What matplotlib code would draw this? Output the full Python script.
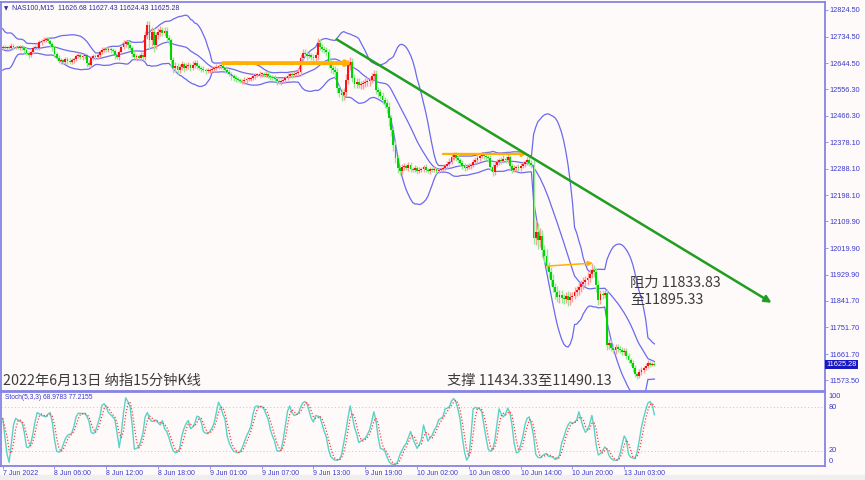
import numpy as np
import pandas as pd
import matplotlib.pyplot as plt
import matplotlib.transforms as mtransforms
from matplotlib.patches import Rectangle

# 15 分钟收盘价 (NAS100, M15)
pre_closes = [12740, 12760, 12730, 12690, 12640, 12620, 12625, 12650, 12680, 12705,
              12725, 12735, 12715, 12690, 12675, 12690, 12705, 12700, 12690, 12700]
first_open = 12696
closes = [
    12699, 12696, 12699, 12696, 12703, 12699, 12699, 12696, 12699, 12696, 12689, 12679,
    12672, 12682, 12696, 12699, 12696, 12716, 12720, 12723, 12726, 12720, 12710, 12699,
    12676, 12662, 12652, 12655, 12649, 12659, 12652, 12649, 12655, 12659, 12669, 12672,
    12666, 12669, 12672, 12645, 12639, 12662, 12669, 12666, 12672, 12682, 12689, 12693,
    12689, 12693, 12689, 12686, 12672, 12666, 12682, 12699, 12710, 12716, 12706, 12696,
    12676, 12666, 12669, 12662, 12672, 12666, 12740, 12774, 12723, 12750, 12706, 12740,
    12750, 12757, 12747, 12754, 12730, 12723, 12655, 12628, 12635, 12622, 12632, 12642,
    12628, 12635, 12639, 12628, 12639, 12645, 12635, 12628, 12625, 12622, 12618, 12618,
    12622, 12625, 12628, 12632, 12635, 12635, 12628, 12622, 12615, 12608, 12601, 12595,
    12591, 12588, 12584, 12584, 12588, 12591, 12591, 12595, 12601, 12605, 12605, 12608,
    12608, 12605, 12608, 12601, 12598, 12595, 12591, 12584, 12581, 12584, 12588, 12595,
    12601, 12608, 12605, 12608, 12612, 12615, 12662, 12679, 12676, 12669, 12672, 12666,
    12662, 12672, 12713, 12699, 12693, 12689, 12682, 12645, 12628, 12622, 12615, 12561,
    12544, 12537, 12547, 12588, 12639, 12649, 12595, 12574, 12581, 12571, 12574, 12577,
    12581, 12584, 12588, 12601, 12608, 12554, 12547, 12534, 12520, 12510, 12497, 12459,
    12419, 12368, 12324, 12290, 12280, 12294, 12297, 12290, 12301, 12287, 12284, 12290,
    12280, 12284, 12287, 12294, 12284, 12280, 12287, 12284, 12287, 12280, 12284, 12287,
    12290, 12297, 12304, 12311, 12328, 12334, 12324, 12317, 12307, 12297, 12290, 12294,
    12297, 12301, 12311, 12317, 12324, 12331, 12334, 12331, 12328, 12324, 12294, 12277,
    12301, 12311, 12317, 12314, 12321, 12317, 12328, 12297, 12284, 12290, 12294, 12290,
    12297, 12304, 12311, 12317, 12307, 12301, 12054, 12074, 12047, 12061, 12013, 11993,
    11959, 11939, 11912, 11888, 11871, 11854, 11861, 11851, 11848, 11858, 11844, 11854,
    11858, 11871, 11878, 11888, 11898, 11905, 11912, 11919, 11932, 11946, 11939, 11895,
    11844, 11865, 11861, 11868, 11692, 11699, 11682, 11675, 11685, 11679, 11675, 11668,
    11672, 11655, 11641, 11631, 11614, 11594, 11587, 11601, 11608, 11614, 11621, 11631,
    11625, 11628, 11625.28,
]
# 上下影线长度 (点)
wick_up = [
    6, 8, 5, 7, 9, 6, 5, 8, 6, 7, 5, 9, 6, 8, 7, 6, 10, 8, 7, 9, 6, 8, 7, 5,
    8, 6, 9, 7, 5, 8, 6, 10, 7, 5, 8, 9, 6, 7, 8, 5, 9, 7, 6, 8, 10, 7, 9, 8,
    7, 9, 6, 8, 7, 10, 8, 9, 12, 8, 7, 10, 6, 9, 8, 7, 10, 12, 15, 12, 12, 18, 14, 10,
    12, 15, 10, 14, 12, 10, 8, 12, 14, 10, 9, 11, 8, 10, 9, 8, 12, 10, 9, 7, 8, 10, 7, 9,
    7, 8, 6, 9, 8, 7, 10, 6, 8, 9, 7, 8, 10, 6, 8, 7, 9, 6, 8, 7, 10, 8, 7, 9,
    8, 7, 9, 10, 6, 8, 9, 7, 8, 6, 9, 8, 10, 7, 8, 9, 7, 12, 15, 14, 12, 10, 9, 8,
    10, 12, 18, 14, 12, 10, 9, 12, 15, 10, 12, 14, 10, 12, 15, 20, 18, 15, 14, 12, 15, 12, 10, 12,
    12, 14, 10, 12, 15, 12, 10, 12, 14, 10, 12, 15, 10, 14, 12, 10, 12, 9, 10, 8, 9, 10, 8, 9,
    8, 9, 7, 8, 9, 6, 8, 7, 9, 6, 8, 7, 9, 8, 10, 12, 14, 12, 10, 9, 8, 10, 9, 8,
    9, 8, 10, 12, 9, 10, 12, 10, 9, 8, 10, 12, 9, 10, 8, 11, 12, 9, 14, 8, 9, 10, 8, 9,
    9, 10, 8, 12, 10, 9, 15, 40, 30, 25, 20, 18, 22, 15, 18, 20, 15, 22, 18, 16, 14, 15, 18, 16,
    14, 16, 15, 18, 14, 16, 15, 20, 18, 25, 15, 12, 18, 14, 12, 10, 15, 12, 10, 12, 10, 11, 9, 10,
    10, 9, 11, 8, 10, 9, 8, 10, 9, 8, 10, 9, 8, 7, 6,
]
wick_dn = [
    7, 5, 8, 6, 5, 9, 7, 5, 8, 6, 10, 7, 9, 6, 5, 8, 6, 7, 9, 5, 8, 6, 9, 12,
    10, 7, 6, 9, 8, 6, 10, 7, 8, 9, 6, 7, 8, 9, 10, 12, 7, 6, 8, 9, 7, 8, 6, 7,
    8, 6, 9, 7, 12, 8, 9, 7, 6, 10, 12, 8, 9, 7, 10, 8, 9, 12, 10, 12, 30, 20, 25, 15,
    14, 12, 10, 12, 15, 18, 20, 15, 12, 14, 10, 9, 12, 8, 10, 9, 8, 11, 9, 8, 10, 7, 9, 8,
    8, 6, 9, 7, 8, 10, 6, 9, 7, 8, 12, 9, 10, 8, 7, 9, 8, 10, 7, 8, 6, 9, 8, 7,
    9, 8, 7, 6, 10, 8, 9, 12, 8, 10, 7, 9, 8, 7, 9, 6, 8, 10, 12, 9, 10, 12, 8, 10,
    12, 14, 15, 10, 12, 9, 14, 18, 15, 14, 20, 18, 15, 20, 18, 14, 12, 16, 15, 12, 14, 10, 12, 15,
    14, 12, 15, 10, 12, 14, 15, 12, 14, 18, 20, 25, 22, 20, 18, 15, 12, 10, 9, 8, 10, 9, 7, 8,
    9, 7, 8, 9, 6, 8, 9, 7, 8, 9, 7, 8, 6, 8, 9, 7, 8, 10, 9, 8, 10, 9, 11, 8,
    8, 9, 7, 8, 10, 9, 8, 10, 9, 12, 10, 14, 9, 8, 10, 9, 8, 10, 9, 12, 10, 8, 9, 10,
    10, 8, 9, 10, 9, 12, 20, 25, 30, 22, 25, 20, 18, 22, 20, 18, 22, 15, 20, 16, 18, 15, 20, 18,
    15, 12, 14, 16, 15, 18, 14, 16, 15, 12, 18, 22, 15, 14, 12, 10, 18, 12, 10, 9, 12, 10, 11, 9,
    9, 10, 8, 11, 12, 10, 9, 8, 10, 9, 8, 7, 6, 5, 3,
]
# Stoch(5,3,3) 主线
stoch_k = [
    64, 40, 15, 4, 30, 55, 64, 62, 60, 58, 45, 25, 24, 30, 43, 60, 72, 70, 68, 67, 66, 70, 72, 58,
    35, 19, 18, 19, 28, 36, 41, 42, 44, 53, 66, 71, 71, 70, 71, 67, 60, 45, 43, 47, 56, 66, 82, 84,
    79, 72, 69, 66, 62, 44, 24, 45, 72, 92, 87, 80, 55, 22, 23, 25, 33, 44, 66, 72, 64, 60, 60, 62,
    58, 55, 61, 50, 46, 38, 28, 20, 17, 18, 23, 40, 50, 57, 61, 50, 52, 57, 67, 66, 59, 46, 44, 43,
    46, 51, 58, 72, 86, 80, 70, 63, 40, 30, 24, 19, 18, 17, 18, 24, 32, 40, 46, 53, 70, 80, 81, 80,
    80, 77, 70, 63, 49, 40, 33, 20, 19, 21, 35, 55, 74, 81, 72, 68, 69, 71, 79, 85, 87, 84, 74, 64,
    59, 68, 67, 66, 56, 46, 38, 22, 12, 9, 7, 7, 8, 14, 30, 46, 65, 81, 67, 52, 43, 31, 33, 35,
    37, 42, 48, 60, 73, 60, 38, 23, 22, 20, 12, 5, 2, 1, 1, 5, 14, 20, 26, 30, 38, 46, 37, 30,
    23, 28, 35, 55, 44, 33, 37, 41, 48, 53, 62, 64, 66, 77, 78, 80, 88, 91, 87, 76, 62, 38, 18, 7,
    12, 40, 77, 79, 78, 77, 73, 55, 37, 22, 19, 21, 33, 55, 77, 70, 66, 70, 78, 72, 55, 30, 17, 18,
    28, 39, 55, 64, 66, 55, 40, 15, 11, 10, 13, 15, 16, 12, 12, 11, 8, 9, 14, 30, 38, 48, 55, 59,
    57, 59, 62, 73, 62, 52, 45, 48, 56, 68, 52, 28, 14, 16, 20, 25, 22, 13, 9, 7, 7, 7, 15, 28,
    40, 35, 15, 11, 10, 9, 18, 34, 52, 65, 76, 85, 87, 82, 69,
]

price_ticks = [12824.50, 12734.50, 12644.50, 12556.30, 12466.30, 12378.10, 12288.10,
               12198.10, 12109.90, 12019.90, 11929.90, 11841.70, 11751.70, 11661.70, 11573.50]
time_tick_bars = [0, 24, 48, 72, 96, 120, 144, 168, 192, 216, 240, 264, 288]
time_tick_labels = ['7 Jun 2022', '8 Jun 06:00', '8 Jun 12:00', '8 Jun 18:00', '9 Jun 01:00',
                    '9 Jun 07:00', '9 Jun 13:00', '9 Jun 19:00', '10 Jun 02:00', '10 Jun 08:00',
                    '10 Jun 14:00', '10 Jun 20:00', '13 Jun 03:00']

# 画线: 橙色水平箭头和绿色趋势箭头
level_start_bar = [102, 204, 252.2]
level_end_bar = [162, 243, 273.5]
level_start_price = [12645, 12338, 11959]
level_end_price = [12645, 12338, 11969]
trend_bars = [154.8, 356.3]
trend_prices = [12725, 11835]

last_price = 11625.28

assert len(closes) == len(wick_up) == len(wick_dn) == len(stoch_k)

# ---------------------------------------------------------------
bg = '#fffafa'
frame = '#8484e4'
axis_txt = '#3a3acc'

fig = plt.figure(figsize=(8.65, 4.8), dpi=100, facecolor=bg)
ax = fig.add_axes([1 / 865, 1 - 391 / 480, 824 / 865, 389 / 480], facecolor=bg)
ax2 = fig.add_axes([1 / 865, 1 - 466 / 480, 824 / 865, 74 / 480], facecolor=bg)
fig.add_artist(Rectangle((0, 0), 1, 5 / 480, transform=fig.transFigure,
                         color='#efefef', zorder=-1))

idx = np.arange(len(closes))
c = np.array(closes, dtype=float)
o = np.concatenate([[first_open], c[:-1]])
hi = np.maximum(o, c) + np.array(wick_up)
lo = np.minimum(o, c) - np.array(wick_dn)
up = c >= o

# 布林带 (20, 2)
allc = pd.Series(pre_closes + list(closes), dtype=float)
mid = allc.rolling(20).mean().values[len(pre_closes):]
sd = allc.rolling(20).std(ddof=0).values[len(pre_closes):]
for band in (mid, mid + 2 * sd, mid - 2 * sd):
    ax.plot(idx, band, color='#6a6aee', lw=0.9, zorder=2)

# K线: 红涨绿跌
ax.vlines(idx[up], lo[up], hi[up], color='#ff9c9c', lw=1.0, zorder=3)
ax.vlines(idx[~up], lo[~up], hi[~up], color='#94ea94', lw=1.0, zorder=3)
body = np.maximum(np.abs(c - o), 2.0)
ax.bar(idx[up], body[up], bottom=np.minimum(o, c)[up], width=0.85,
       color='#ff1010', linewidth=0, zorder=4)
ax.bar(idx[~up], body[~up], bottom=np.minimum(o, c)[~up], width=0.85,
       color='#00d400', linewidth=0, zorder=4)

# 橙色阻力/支撑箭头
level_widths = [2.8, 1.6, 1.1]
for x0, x1, y0, y1, w in zip(level_start_bar, level_end_bar, level_start_price,
                             level_end_price, level_widths):
    ax.annotate('', xy=(x1, y1), xytext=(x0, y0),
                arrowprops=dict(arrowstyle='-|>', color='#ffb000', lw=w,
                                mutation_scale=7, shrinkA=0, shrinkB=0), zorder=5)

# 绿色下降趋势箭头
ax.annotate('', xy=(trend_bars[1], trend_prices[1]), xytext=(trend_bars[0], trend_prices[0]),
            arrowprops=dict(arrowstyle='-|>', color='#1f9e1f', lw=1.8,
                            mutation_scale=10, shrinkA=0, shrinkB=0), zorder=5)

ax.set_xlim(-0.79, 381.05)
ax.set_ylim(11536.7, 12851.5)
ax.set_xticks([])
ax.yaxis.tick_right()
ax.set_yticks(price_ticks)
ax.set_yticklabels([f'{p:.2f}' for p in price_ticks], family='Liberation Sans')
ax.tick_params(axis='y', length=2, width=0.6, pad=1.5, labelsize=5.3,
               labelcolor=axis_txt, color=frame)

# 当前价格标签
trans = mtransforms.blended_transform_factory(ax.transAxes, ax.transData)
ax.text(1.0015, last_price, f'{last_price:.2f}', transform=trans, ha='left', va='center',
        fontsize=5.3, family='Liberation Sans', color='white',
        bbox=dict(facecolor='#1818c0', edgecolor='none', pad=0.8))

# 随机指标
k = pd.Series(stoch_k, dtype=float)
d = k.rolling(3, min_periods=1).mean()
ax2.axhline(80, color='#c4c4c4', lw=0.7, ls=(0, (1, 2.5)))
ax2.axhline(20, color='#c4c4c4', lw=0.7, ls=(0, (1, 2.5)))
ax2.plot(idx, k, color='#5ad2c6', lw=1.0)
ax2.plot(idx, d, color='#ff3b3b', lw=0.9, ls=(0, (1, 1.5)))
ax2.set_xlim(-0.79, 381.05)
ax2.set_ylim(-1, 100)
ax2.set_yticks([])
trans2 = mtransforms.blended_transform_factory(ax2.transAxes, ax2.transData)
for val, lab in [(93.6, '100'), (79, '80'), (20, '20'), (4.9, '0')]:
    ax2.text(1.004, val, lab, transform=trans2, ha='left', va='center', fontsize=5.3,
             family='Liberation Sans', color=axis_txt)
ax2.text(0.005, 0.92, 'Stoch(5,3,3) 68.9783 77.2155', transform=ax2.transAxes,
         ha='left', va='center', fontsize=4.8, family='Liberation Sans', color=axis_txt)

ax2.set_xticks(time_tick_bars)
ax2.set_xticklabels(time_tick_labels, family='Liberation Sans', ha='left')
ax2.tick_params(axis='x', length=2.5, width=0.6, pad=0.5, labelsize=5,
                labelcolor=axis_txt, color=frame)

for a in (ax, ax2):
    for s in a.spines.values():
        s.set_color(frame)
        s.set_linewidth(1.3)

# 文字
cjk = ['Noto Sans CJK SC', 'DejaVu Sans']
fig.text(12 / 865, 1 - 8 / 480, 'NAS100,M15  11626.68 11627.43 11624.43 11625.28',
         fontsize=5, family='Liberation Sans', color='#2c2c9a', va='center')
fig.text(4 / 865, 1 - 8.5 / 480, '▼', fontsize=4, color='#2c2c9a', va='center')
fig.text(3 / 865, 1 - 381 / 480, '2022年6月13日 纳指15分钟K线', fontsize=10.3,
         family=cjk, color='#3c3c3c', va='center')
fig.text(447 / 865, 1 - 381 / 480, '支撑 11434.33至11490.13', fontsize=10.3,
         family=cjk, color='#3c3c3c', va='center')
fig.text(630 / 865, 1 - 283 / 480, '阻力 11833.83', fontsize=10.3,
         family=cjk, color='#3c3c3c', va='center')
fig.text(630 / 865, 1 - 300 / 480, '至11895.33', fontsize=10.3,
         family=cjk, color='#3c3c3c', va='center')

fig.savefig('out.png', dpi=100, facecolor=bg)
